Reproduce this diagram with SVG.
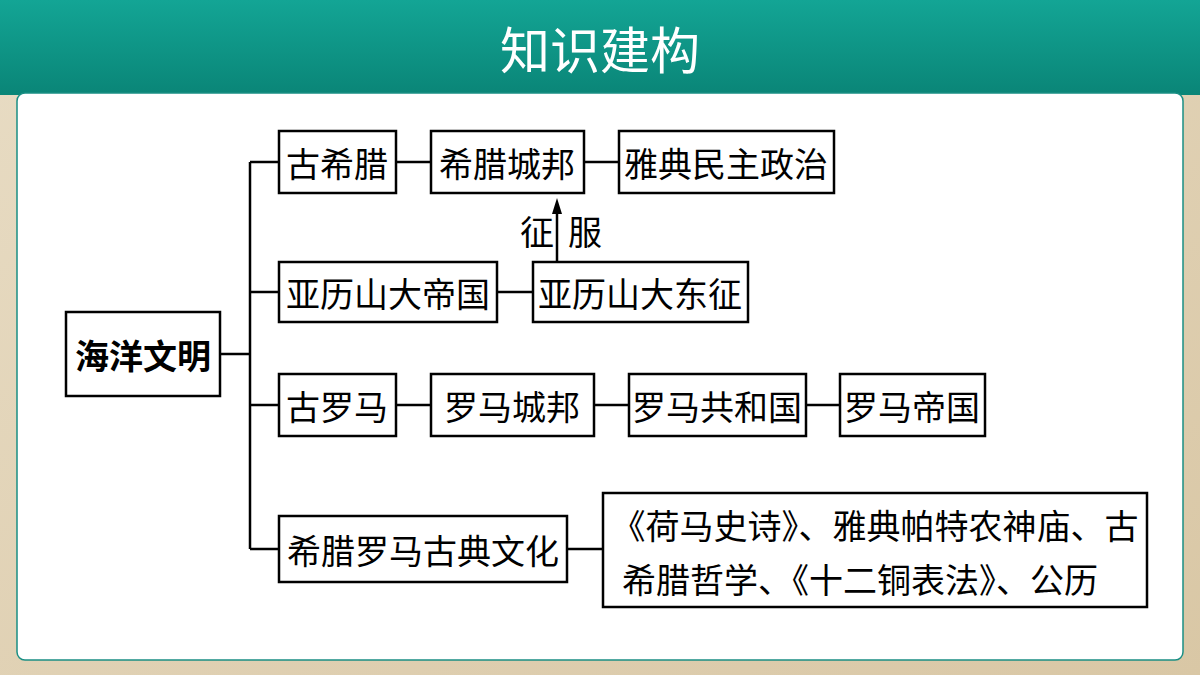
<svg xmlns="http://www.w3.org/2000/svg" width="1200" height="675" viewBox="0 0 1200 675">
<defs>
<linearGradient id="hd" x1="0" y1="0" x2="0" y2="1"><stop offset="0" stop-color="#13a595"/><stop offset="1" stop-color="#0a8577"/></linearGradient>
<linearGradient id="bg" x1="0" y1="0" x2="1" y2="1"><stop offset="0" stop-color="#e8dcc4"/><stop offset="1" stop-color="#d9c7a5"/></linearGradient>
<marker id="ar" markerWidth="16" markerHeight="12" refX="2" refY="6" orient="auto" markerUnits="userSpaceOnUse"><path d="M0,1 L16,6 L0,11 Z" fill="#000"/></marker>
</defs>
<style>
.b{fill:#fff;stroke:#000;stroke-width:2.5}
.t{font-family:"Noto Sans CJK SC",sans-serif;font-size:34px;fill:#000;text-anchor:middle;dominant-baseline:central}
.l{stroke:#000;stroke-width:2.5;fill:none}
</style>
<rect width="1200" height="675" fill="url(#bg)"/>
<rect x="0" y="0" width="1200" height="95" fill="url(#hd)"/>
<text x="600" y="47" font-family="Noto Sans CJK SC,sans-serif" font-size="50" fill="#fff" text-anchor="middle" dominant-baseline="central">知识建构</text>
<rect x="17" y="93" width="1166" height="567" rx="8" fill="#fff" stroke="#1a8f84" stroke-width="1.5"/>
<g id="connectors">
<path class="l" d="M220,354 H250 M250,162 V549 M250,162 H279 M250,292 H279 M250,405 H279 M250,549 H279 M396,162 H431 M584,162 H619 M497,292 H533 M396,405 H431 M594,405 H629 M806,405 H840 M567,549 H603"/>
<line class="l" x1="557" y1="262" x2="557" y2="212" marker-end="url(#ar)"/>
</g>
<g id="n0"><rect class="b" x="66" y="312" width="154" height="84"/><text class="t" x="143" y="354" font-weight="bold">海洋文明</text></g>
<g id="n1"><rect class="b" x="279" y="131" width="117" height="62"/><text class="t" x="337" y="162">古希腊</text></g>
<g id="n2"><rect class="b" x="431" y="131" width="153" height="62"/><text class="t" x="507" y="162">希腊城邦</text></g>
<g id="n3"><rect class="b" x="619" y="131" width="215" height="62"/><text class="t" x="726" y="162">雅典民主政治</text></g>
<g id="n4"><rect class="b" x="279" y="262" width="218" height="60"/><text class="t" x="388" y="292">亚历山大帝国</text></g>
<g id="n5"><rect class="b" x="533" y="262" width="215" height="60"/><text class="t" x="640" y="292">亚历山大东征</text></g>
<g id="lab"><text class="t" x="537" y="230">征</text><text class="t" x="585" y="230">服</text></g>
<g id="n6"><rect class="b" x="279" y="374" width="117" height="62"/><text class="t" x="337" y="405">古罗马</text></g>
<g id="n7"><rect class="b" x="431" y="374" width="163" height="62"/><text class="t" x="512" y="405">罗马城邦</text></g>
<g id="n8"><rect class="b" x="629" y="374" width="177" height="62"/><text class="t" x="717" y="405">罗马共和国</text></g>
<g id="n9"><rect class="b" x="840" y="374" width="145" height="62"/><text class="t" x="912" y="405">罗马帝国</text></g>
<g id="n10"><rect class="b" x="279" y="516" width="288" height="66"/><text class="t" x="423" y="549">希腊罗马古典文化</text></g>
<g id="n11"><rect class="b" x="603" y="493" width="544" height="114"/><text class="t" x="875" y="524">《荷马史诗》、雅典帕特农神庙、古</text><text class="t" x="860" y="578">希腊哲学、《十二铜表法》、公历</text></g>
</svg>
